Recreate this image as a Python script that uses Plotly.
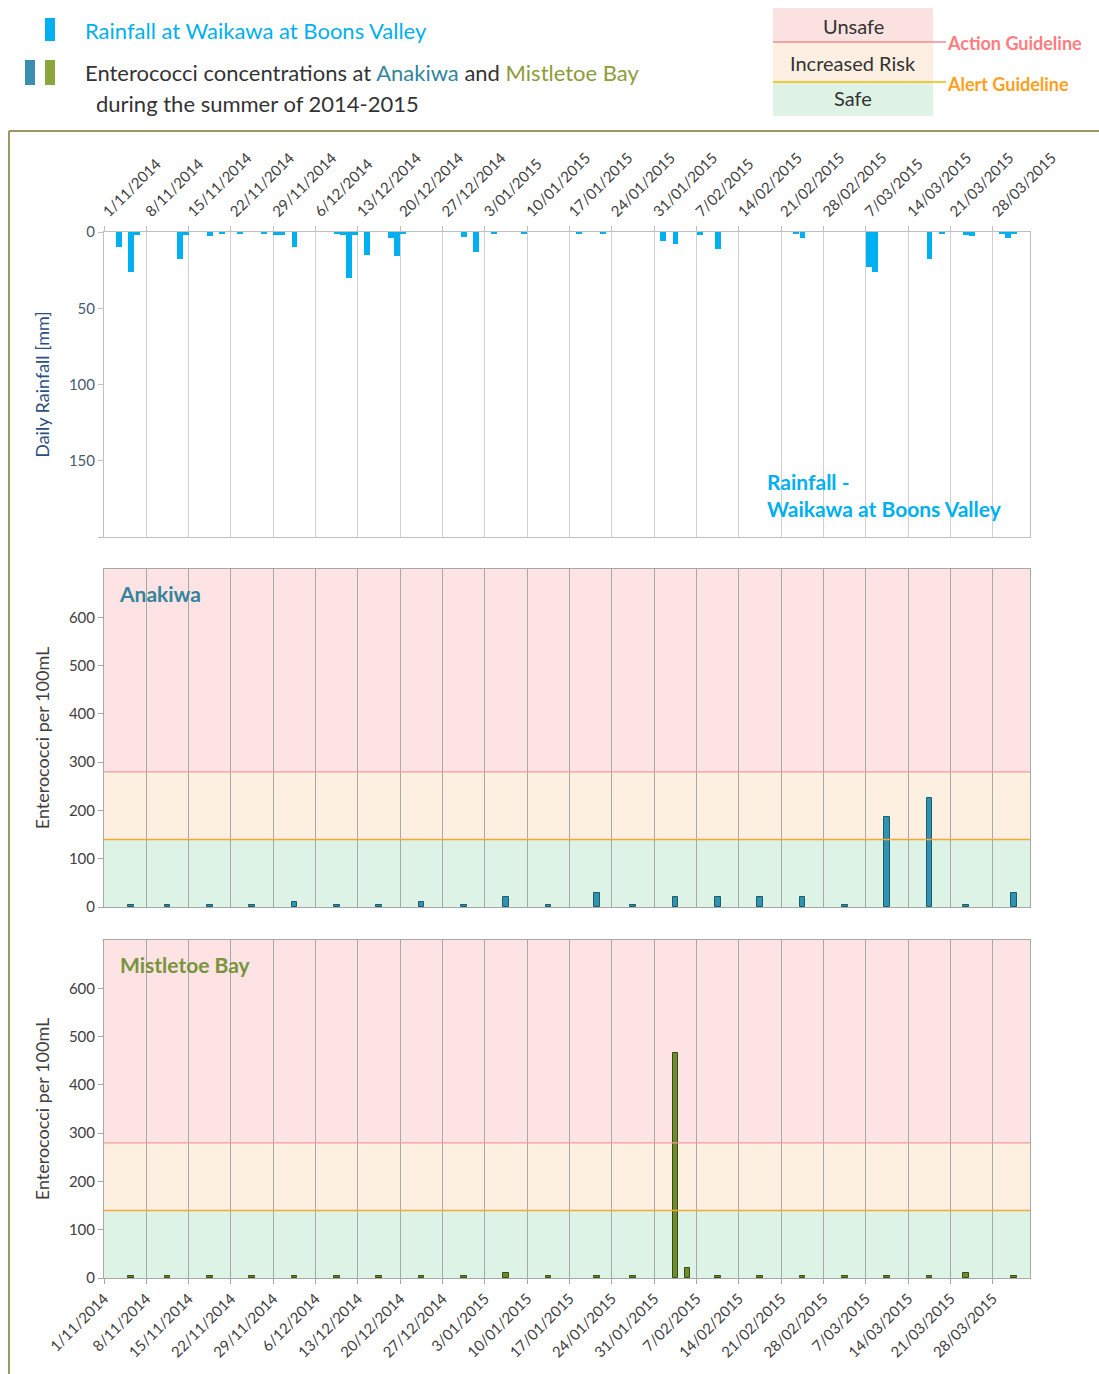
import plotly.graph_objects as go

# ---------------- data ----------------
tick_dates = ["2014-11-01", "2014-11-08", "2014-11-15", "2014-11-22", "2014-11-29", "2014-12-06",
              "2014-12-13", "2014-12-20", "2014-12-27", "2015-01-03", "2015-01-10", "2015-01-17",
              "2015-01-24", "2015-01-31", "2015-02-07", "2015-02-14", "2015-02-21", "2015-02-28",
              "2015-03-07", "2015-03-14", "2015-03-21", "2015-03-28"]
tick_labels = ["1/11/2014", "8/11/2014", "15/11/2014", "22/11/2014", "29/11/2014", "6/12/2014",
               "13/12/2014", "20/12/2014", "27/12/2014", "3/01/2015", "10/01/2015", "17/01/2015",
               "24/01/2015", "31/01/2015", "7/02/2015", "14/02/2015", "21/02/2015", "28/02/2015",
               "7/03/2015", "14/03/2015", "21/03/2015", "28/03/2015"]

rain_dates = ["2014-11-03", "2014-11-05", "2014-11-06", "2014-11-13", "2014-11-14", "2014-11-18",
              "2014-11-20", "2014-11-23", "2014-11-27", "2014-11-29", "2014-11-30", "2014-12-02",
              "2014-12-09", "2014-12-10", "2014-12-11", "2014-12-12", "2014-12-14", "2014-12-18",
              "2014-12-19", "2014-12-20", "2014-12-30", "2015-01-01", "2015-01-04", "2015-01-09",
              "2015-01-18", "2015-01-22", "2015-02-01", "2015-02-03", "2015-02-07", "2015-02-10",
              "2015-02-23", "2015-02-24", "2015-03-07", "2015-03-08", "2015-03-17", "2015-03-19",
              "2015-03-23", "2015-03-24", "2015-03-29", "2015-03-30", "2015-03-31"]
rain_mm = [10, 26, 2, 17.5, 2, 2.4,
           1, 1, 1, 2, 2, 10,
           1, 2, 30, 2, 15, 4,
           16, 1, 3, 13, 1, 1,
           1.5, 1, 6, 8, 2, 11,
           1, 3.7, 23, 26, 18, 1,
           2, 2.5, 1, 3.7, 1]

anakiwa_dates = ["2014-11-05", "2014-11-11", "2014-11-18", "2014-11-25", "2014-12-02", "2014-12-09",
                 "2014-12-16", "2014-12-23", "2014-12-30", "2015-01-06", "2015-01-13", "2015-01-21",
                 "2015-01-27", "2015-02-03", "2015-02-10", "2015-02-17", "2015-02-24", "2015-03-03",
                 "2015-03-10", "2015-03-17", "2015-03-23", "2015-03-31"]
anakiwa_vals = [5, 5, 5, 5, 10, 5,
                5, 10, 5, 20, 5, 30,
                5, 20, 20, 20, 20, 5,
                187, 225, 5, 30]

mistletoe_dates = ["2014-11-05", "2014-11-11", "2014-11-18", "2014-11-25", "2014-12-02", "2014-12-09",
                   "2014-12-16", "2014-12-23", "2014-12-30", "2015-01-06", "2015-01-13", "2015-01-21",
                   "2015-01-27", "2015-02-03", "2015-02-05", "2015-02-10", "2015-02-17", "2015-02-24",
                   "2015-03-03", "2015-03-10", "2015-03-17", "2015-03-23", "2015-03-31"]
mistletoe_vals = [4, 4, 4, 4, 4, 4,
                  4, 4, 4, 10, 4, 4,
                  4, 465, 20, 4, 4, 4,
                  4, 4, 4, 10, 4]

ALERT = 140
ACTION = 280
ENT_MAX = 700
RAIN_MAX = 200
X_RANGE = ["2014-11-01", "2015-04-03 03:00"]

# ---------------- style ----------------
FONT = "Lato"
W, H = 1099, 1374
C_RAIN = "#00B0F0"
C_ANA = "#2F93B4"
C_ANA_LINE = "#215A68"
C_MB = "#6F8C2C"
C_MB_LINE = "#3A4A14"
C_RED_BAND = "#FDE3E3"
C_ORG_BAND = "#FDF0E0"
C_GRN_BAND = "#DDF3E5"
C_ACTION = "#F29A9A"
C_ALERT = "#F5A83A"
DAY_MS = 86400000


def px(x):
    return x / W


def py(y):
    return 1 - y / H


fig = go.Figure()

fig.add_trace(go.Bar(x=rain_dates, y=rain_mm, xaxis="x", yaxis="y",
                     marker=dict(color=C_RAIN, line=dict(width=0)),
                     width=DAY_MS * 0.98, xperiod=DAY_MS, xperiodalignment="middle",
                     showlegend=False))
fig.add_trace(go.Bar(x=anakiwa_dates, y=anakiwa_vals, xaxis="x2", yaxis="y2",
                     marker=dict(color=C_ANA, line=dict(width=1, color=C_ANA_LINE)),
                     width=DAY_MS * 0.95, xperiod=DAY_MS, xperiodalignment="middle",
                     showlegend=False))
fig.add_trace(go.Bar(x=mistletoe_dates, y=mistletoe_vals, xaxis="x3", yaxis="y3",
                     marker=dict(color=C_MB, line=dict(width=1, color=C_MB_LINE)),
                     width=DAY_MS * 0.95, xperiod=DAY_MS, xperiodalignment="middle",
                     showlegend=False))

xdom = [px(104), px(1030)]
common_x = dict(type="date", range=X_RANGE, tickvals=tick_dates, ticktext=tick_labels,
                showgrid=True, gridwidth=1, showline=True, mirror=True, linewidth=1,
                ticks="outside", ticklen=5, tickangle=-45, automargin=False,
                tickfont=dict(family=FONT, size=15, color="#404040"), domain=xdom)
common_y = dict(showgrid=False, zeroline=False, showline=True, mirror=True, linewidth=1,
                ticks="outside", ticklen=5, automargin=False,
                tickfont=dict(family=FONT, size=15, color="#404040"))

fig.update_layout(
    width=W, height=H, autosize=False,
    margin=dict(l=0, r=0, t=0, b=0, autoexpand=False),
    paper_bgcolor="white", plot_bgcolor="rgba(0,0,0,0)",
    bargap=0,
    font=dict(family=FONT, color="#404040"),
    xaxis=dict(common_x, anchor="y", side="top", showticklabels=True,
               gridcolor="#D0D0D0", linecolor="#C0C0C0", tickcolor="#C0C0C0"),
    yaxis=dict(common_y, domain=[py(537), py(232)], anchor="x", range=[RAIN_MAX, 0],
               tickvals=[0, 50, 100, 150, 200], ticktext=["0", "50", "100", "150", ""],
               linecolor="#C0C0C0", tickcolor="#C0C0C0",
               tickfont=dict(family=FONT, size=15, color="#4A5A70"),
               title=dict(text="Daily Rainfall [mm]", standoff=14,
                          font=dict(family=FONT, size=18, color="#2B4F7E"))),
    xaxis2=dict(common_x, anchor="y2", showticklabels=False, ticks="",
                gridcolor="#A8A8A8", linecolor="#A8A8A8"),
    yaxis2=dict(common_y, domain=[py(907), py(569)], anchor="x2", range=[0, ENT_MAX],
                tickvals=[0, 100, 200, 300, 400, 500, 600],
                linecolor="#A8A8A8", tickcolor="#A8A8A8",
                title=dict(text="Enterococci per 100mL", standoff=14,
                           font=dict(family=FONT, size=18, color="#404040"))),
    xaxis3=dict(common_x, anchor="y3", side="bottom", showticklabels=True,
                gridcolor="#A8A8A8", linecolor="#A8A8A8", tickcolor="#A8A8A8"),
    yaxis3=dict(common_y, domain=[py(1278), py(940)], anchor="x3", range=[0, ENT_MAX],
                tickvals=[0, 100, 200, 300, 400, 500, 600],
                linecolor="#A8A8A8", tickcolor="#A8A8A8",
                title=dict(text="Enterococci per 100mL", standoff=14,
                           font=dict(family=FONT, size=18, color="#404040"))),
)

shapes = []
# guideline bands and lines in the two enterococci panels
for xr, yr in (("x2 domain", "y2"), ("x3 domain", "y3")):
    shapes += [
        dict(type="rect", xref=xr, yref=yr, x0=0, x1=1, y0=ACTION, y1=ENT_MAX,
             fillcolor=C_RED_BAND, line=dict(width=0), layer="below"),
        dict(type="rect", xref=xr, yref=yr, x0=0, x1=1, y0=ALERT, y1=ACTION,
             fillcolor=C_ORG_BAND, line=dict(width=0), layer="below"),
        dict(type="rect", xref=xr, yref=yr, x0=0, x1=1, y0=0, y1=ALERT,
             fillcolor=C_GRN_BAND, line=dict(width=0), layer="below"),
        dict(type="line", xref=xr, yref=yr, x0=0, x1=1, y0=ACTION, y1=ACTION,
             line=dict(color=C_ACTION, width=1.2)),
        dict(type="line", xref=xr, yref=yr, x0=0, x1=1, y0=ALERT, y1=ALERT,
             line=dict(color=C_ALERT, width=1.5)),
    ]

# header legend swatches
shapes += [
    dict(type="rect", xref="paper", yref="paper", x0=px(45), x1=px(55), y0=py(41), y1=py(18),
         fillcolor=C_RAIN, line=dict(width=0)),
    dict(type="rect", xref="paper", yref="paper", x0=px(25), x1=px(35), y0=py(85), y1=py(60),
         fillcolor="#3A8FAE", line=dict(width=0)),
    dict(type="rect", xref="paper", yref="paper", x0=px(45), x1=px(55), y0=py(85), y1=py(60),
         fillcolor="#8BA63C", line=dict(width=0)),
    # guideline key box
    dict(type="rect", xref="paper", yref="paper", x0=px(773), x1=px(933), y0=py(42), y1=py(8),
         fillcolor="#FCE1E1", line=dict(width=0)),
    dict(type="rect", xref="paper", yref="paper", x0=px(773), x1=px(933), y0=py(82), y1=py(42),
         fillcolor="#FDF0E2", line=dict(width=0)),
    dict(type="rect", xref="paper", yref="paper", x0=px(773), x1=px(933), y0=py(116), y1=py(82),
         fillcolor="#DFF2E6", line=dict(width=0)),
    dict(type="line", xref="paper", yref="paper", x0=px(773), x1=px(946), y0=py(42), y1=py(42),
         line=dict(color="#F08C8C", width=1.5)),
    dict(type="line", xref="paper", yref="paper", x0=px(773), x1=px(946), y0=py(82), y1=py(82),
         line=dict(color="#F5B800", width=1.5)),
    # olive frame
    dict(type="line", xref="paper", yref="paper", x0=px(9), x1=px(9), y0=py(131), y1=0,
         line=dict(color="#9E9760", width=2)),
    dict(type="line", xref="paper", yref="paper", x0=px(9), x1=1, y0=py(131), y1=py(131),
         line=dict(color="#9E9760", width=2)),
]
fig.update_layout(shapes=shapes)

ann = []


def text(x, y, s, size, color, xanchor="left", bold=False):
    if bold:
        s = "<b>" + s + "</b>"
    ann.append(dict(xref="paper", yref="paper", x=px(x), y=py(y), text=s, showarrow=False,
                    xanchor=xanchor, yanchor="middle", align="left",
                    font=dict(family=FONT, size=size, color=color)))


text(83, 31, "Rainfall at Waikawa at Boons Valley", 22, C_RAIN)
text(83, 72, "Enterococci concentrations at <span style='color:#31859C'>Anakiwa</span> and "
             "<span style='color:#8E9B3A'>Mistletoe Bay</span>", 22, "#333333")
text(94, 104, "during the summer of 2014-2015", 22, "#333333")
text(853, 26, "Unsafe", 20, "#333333", xanchor="center")
text(853, 63, "Increased Risk", 20, "#333333", xanchor="center")
text(853, 98, "Safe", 20, "#333333", xanchor="center")
text(945, 43, "Action Guideline", 18, "#FF7C80", bold=True)
text(945, 84, "Alert Guideline", 18, "#FFA020", bold=True)
text(117, 593, "Anakiwa", 21, "#31849B", bold=True)
text(118, 964, "Mistletoe Bay", 21, "#77933C", bold=True)
ann.append(dict(xref="paper", yref="paper", x=px(765), y=py(495),
                text="<b>Rainfall -<br>Waikawa at Boons Valley</b>", showarrow=False,
                xanchor="left", yanchor="middle", align="left",
                font=dict(family=FONT, size=21, color=C_RAIN)))
fig.update_layout(annotations=ann)

fig.write_html("out.html", config={"displayModeBar": False},
               post_script="document.body.style.margin='0';")
